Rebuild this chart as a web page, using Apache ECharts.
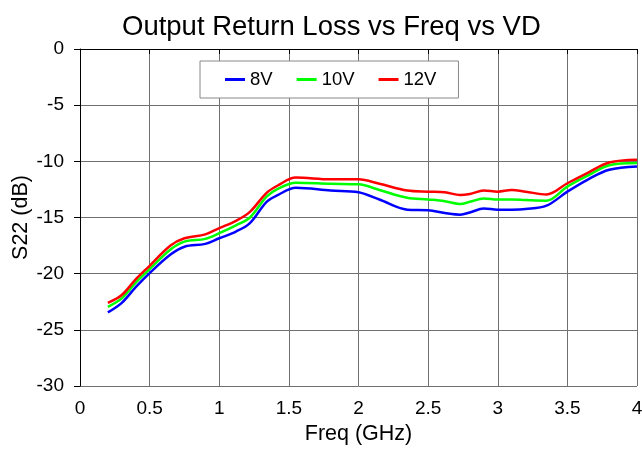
<!DOCTYPE html>
<html><head><meta charset="utf-8">
<script src="https://cdn.jsdelivr.net/npm/echarts@6/dist/echarts.min.js"></script>
<style>html,body{margin:0;padding:0;background:#fff}#c{width:642px;height:451px}</style>
</head><body><div id="c"></div>
<script>
const freqs = [0.2,0.3,0.4,0.5,0.65,0.75,0.9,1.0,1.12,1.22,1.34,1.42,1.55,1.8,2.0,2.15,2.35,2.5,2.62,2.73,2.8,2.9,3.0,3.1,3.2,3.35,3.5,3.65,3.8,4.0];
const s22_8V  = [-23.45,-22.6,-21.2,-19.95,-18.3,-17.6,-17.35,-16.85,-16.25,-15.5,-13.6,-13.0,-12.35,-12.6,-12.75,-13.4,-14.3,-14.35,-14.6,-14.75,-14.55,-14.2,-14.3,-14.3,-14.25,-13.95,-12.7,-11.6,-10.75,-10.45];
const s22_10V = [-22.95,-22.2,-20.8,-19.6,-17.85,-17.15,-16.9,-16.4,-15.7,-15.0,-13.15,-12.45,-11.9,-12.0,-12.05,-12.55,-13.25,-13.4,-13.55,-13.8,-13.6,-13.3,-13.4,-13.4,-13.45,-13.5,-12.25,-11.25,-10.35,-10.15];
const s22_12V = [-22.6,-21.9,-20.5,-19.3,-17.5,-16.85,-16.5,-15.95,-15.3,-14.5,-12.8,-12.15,-11.45,-11.6,-11.6,-12.0,-12.6,-12.7,-12.75,-13.0,-12.9,-12.6,-12.7,-12.55,-12.7,-12.95,-11.95,-11.0,-10.1,-9.85];
const seriesNames = ['8V','10V','12V'];
const seriesColors = ['#0000ff','#00ff00','#ff0000'];
const xTicks = {min:0,max:4,interval:0.5};
const yTicks = {min:-30,max:0,interval:5};

const chart = echarts.init(document.getElementById('c'));
const font = 'Liberation Sans, Arial, sans-serif';
const dataSets = [s22_8V, s22_10V, s22_12V];
chart.setOption({
  animation:false,
  textStyle:{fontFamily:font},
  title:{text:'Output Return Loss vs Freq vs VD',left:117,top:8,
    textStyle:{fontFamily:font,fontSize:27.5,fontWeight:'normal',color:'#000'}},
  legend:{left:200,top:61,padding:[9,22,9,25],itemGap:24,itemWidth:20,itemHeight:3,
    borderColor:'#888',borderWidth:1,backgroundColor:'#fff',
    textStyle:{fontFamily:font,fontSize:18.5,color:'#000'},
    icon:'rect',data:seriesNames},
  grid:{left:80,right:5,top:49,bottom:65,containLabel:false,outerBoundsMode:'none'},
  xAxis:{type:'value',min:xTicks.min,max:xTicks.max,interval:xTicks.interval,
    name:'Freq (GHz)',nameLocation:'middle',nameGap:37,nameMoveOverlap:false,
    nameTextStyle:{fontFamily:font,fontSize:21.5,color:'#000'},
    axisLine:{lineStyle:{color:'#000',width:1}},
    axisTick:{show:true,length:5,lineStyle:{color:'#000'}},
    axisLabel:{fontFamily:font,fontSize:19,color:'#000',margin:13},
    splitLine:{show:true,lineStyle:{color:'#707070',width:1}}},
  yAxis:{type:'value',min:yTicks.min,max:yTicks.max,interval:yTicks.interval,
    name:'S22 (dB)',nameLocation:'middle',nameGap:48,nameRotate:90,nameMoveOverlap:false,
    nameTextStyle:{fontFamily:font,fontSize:21.5,color:'#000'},
    axisLine:{show:true,lineStyle:{color:'#000',width:1}},
    axisTick:{show:true,length:6,lineStyle:{color:'#000'}},
    axisLabel:{fontFamily:font,fontSize:19,color:'#000',margin:16},
    splitLine:{show:true,lineStyle:{color:'#707070',width:1}}},
  series: dataSets.map((d,i)=>({
    name:seriesNames[i],type:'line',smooth:0.35,showSymbol:false,symbol:'none',
    color:seriesColors[i],
    lineStyle:{color:seriesColors[i],width:2.5},
    data:freqs.map((f,j)=>[f,d[j]])
  }))
});
</script></body></html>
